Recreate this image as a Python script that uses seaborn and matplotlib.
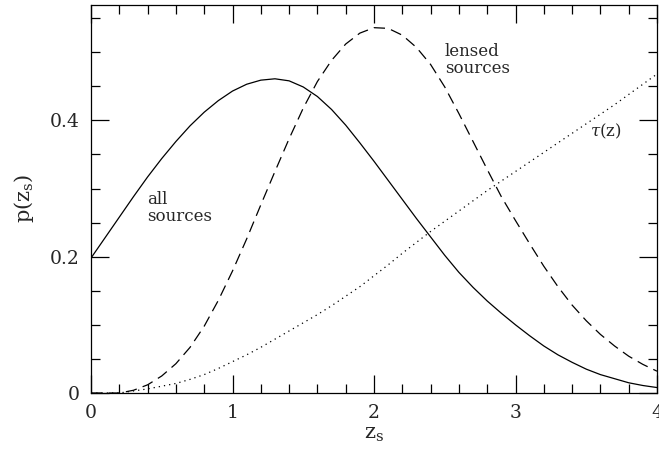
import numpy as np
import pandas as pd
import matplotlib
matplotlib.use("Agg")
import matplotlib.pyplot as plt
from matplotlib.ticker import MultipleLocator
import seaborn as sns

# ---- data ----
z = [0.0, 0.1, 0.2, 0.3, 0.4, 0.5, 0.6, 0.7, 0.8, 0.9,
     1.0, 1.1, 1.2, 1.3, 1.4, 1.5, 1.6, 1.7, 1.8, 1.9,
     2.0, 2.1, 2.2, 2.3, 2.4, 2.5, 2.6, 2.7, 2.8, 2.9,
     3.0, 3.1, 3.2, 3.3, 3.4, 3.5, 3.6, 3.7, 3.8, 3.9, 4.0]

all_sources = [0.198, 0.228, 0.258, 0.288, 0.317, 0.344, 0.369, 0.392, 0.412, 0.429,
               0.443, 0.453, 0.459, 0.461, 0.458, 0.449, 0.435, 0.416, 0.393, 0.367,
               0.340, 0.312, 0.284, 0.256, 0.229, 0.202, 0.177, 0.155, 0.135, 0.117,
               0.100, 0.084, 0.069, 0.056, 0.045, 0.035, 0.027, 0.021, 0.015, 0.011, 0.008]

lensed_sources = [0.0, 0.0, 0.0, 0.004, 0.012, 0.025, 0.043, 0.067, 0.098, 0.136,
                  0.179, 0.226, 0.276, 0.325, 0.373, 0.418, 0.457, 0.488, 0.512, 0.528,
                  0.536, 0.535, 0.525, 0.507, 0.482, 0.449, 0.410, 0.369, 0.328, 0.288,
                  0.253, 0.219, 0.186, 0.156, 0.129, 0.106, 0.086, 0.069, 0.054, 0.042, 0.032]

tau = [0.0, 0.0, 0.0, 0.003, 0.006, 0.010, 0.014, 0.020, 0.027, 0.036,
       0.046, 0.056, 0.067, 0.079, 0.091, 0.103, 0.115, 0.128, 0.142, 0.156,
       0.172, 0.188, 0.205, 0.221, 0.237, 0.252, 0.267, 0.282, 0.297, 0.311,
       0.325, 0.339, 0.353, 0.367, 0.381, 0.395, 0.409, 0.423, 0.438, 0.453, 0.468]

x_ticks = [0, 1, 2, 3, 4]
x_tick_labels = ["0", "1", "2", "3", "4"]
y_ticks = [0, 0.2, 0.4]
y_tick_labels = ["0", "0.2", "0.4"]

# ---- style ----
sns.set_style("ticks")
plt.rcParams["font.family"] = ["DejaVu Serif"]
plt.rcParams["mathtext.fontset"] = "dejavuserif"

fig = plt.figure(figsize=(6.59, 4.55), dpi=100)
ax = fig.add_axes([91 / 659, 62 / 455, 566 / 659, 388.5 / 455])

df = pd.DataFrame({"z": z, "all": all_sources, "lensed": lensed_sources, "tau": tau})

sns.lineplot(data=df, x="z", y="all", ax=ax, color="black", lw=0.9)
sns.lineplot(data=df, x="z", y="lensed", ax=ax, color="black", lw=0.9,
             linestyle=(0, (9, 5)))
sns.lineplot(data=df, x="z", y="tau", ax=ax, color="black", lw=0.9,
             linestyle=(0, (1, 3.2)))

ax.set_xlim(0, 4)
ax.set_ylim(0, 0.57)

ax.set_xticks(x_ticks)
ax.set_xticklabels(x_tick_labels)
ax.set_yticks(y_ticks)
ax.set_yticklabels(y_tick_labels)
ax.xaxis.set_minor_locator(MultipleLocator(0.2))
ax.yaxis.set_minor_locator(MultipleLocator(0.05))

ax.tick_params(which="both", direction="in", top=True, right=True,
               color="black", width=0.9)
ax.tick_params(which="major", length=13, labelsize=13.5, pad=8)
ax.tick_params(which="minor", length=6.5)
for s in ax.spines.values():
    s.set_linewidth(0.9)
    s.set_color("black")
    s.set_visible(True)

ax.set_xlabel(r"z$_{\rm s}$", fontsize=15, labelpad=2)
ax.set_ylabel(r"p(z$_{\rm s}$)", fontsize=15, labelpad=10)

ax.text(0.40, 0.271, "all\nsources", fontsize=12, ha="left", va="center",
        linespacing=1.0)
ax.text(2.50, 0.488, "lensed\nsources", fontsize=12, ha="left", va="center",
        linespacing=1.0)
ax.text(3.53, 0.384, r"$\tau$(z)", fontsize=12, ha="left", va="center")

fig.savefig("out.png", dpi=100)
